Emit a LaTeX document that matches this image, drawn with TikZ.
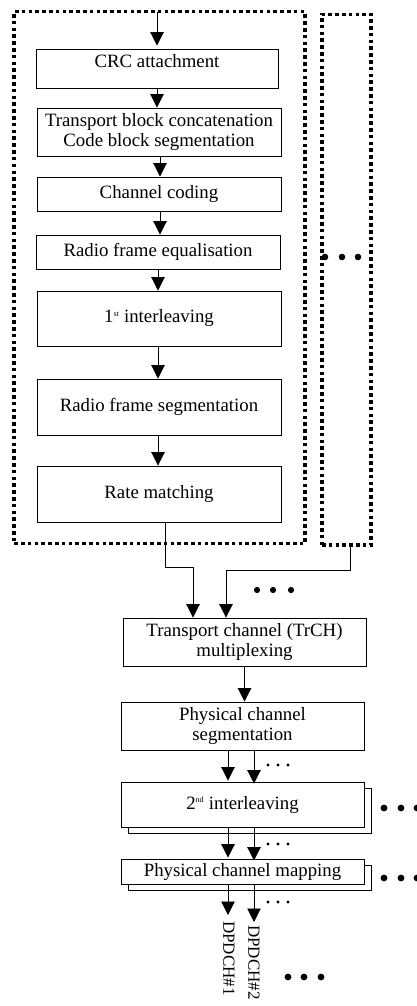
\documentclass[tikz,border=0pt]{standalone}
\usepackage{fontspec}
\setmainfont{Liberation Serif}
\usetikzlibrary{arrows.meta,shadows}
\newcommand\fsz{\fontsize{18.8}{20.5}\selectfont}
\newcommand\supsm[1]{\textsuperscript{\fontsize{8}{8}\selectfont #1}}
\begin{document}
\begin{tikzpicture}[x=1pt,y=-1pt,
  box/.style={draw=black, line width=0.9pt, fill=white, inner sep=0pt, align=center, font=\fsz},
  txt/.style={inner sep=0pt, align=center, font=\fsz},
  dotbox/.style={draw=black, line width=3.6pt, dash pattern=on 3.6pt off 3.2pt, inner sep=0pt},
  arr/.style={draw=black, line width=0.9pt, -{Triangle[length=13.5pt 0 0,width=13.5pt 0 0]}},
  shad/.style={copy shadow={shadow xshift=7pt, shadow yshift=-6pt}},
  bigdot/.style={fill=black},
  smalldot/.style={fill=black}]
\useasboundingbox (0,0) rectangle (417,1006);

% dotted enclosures
\node[dotbox, minimum width=290.5pt, minimum height=531.8pt] (lbox) at (159.5,277.6) {};
\node[dotbox, minimum width=49pt, minimum height=530.7pt] (rbox) at (346.5,279.7) {};
\coordinate (in) at (157,12);

% TrCH processing chain
\node[box, minimum width=242pt, minimum height=39pt] (crc) at (157,68.5) {};
\node[txt] (crct) at (157,61.5) {CRC attachment};
\node[box, minimum width=244pt, minimum height=48pt] (tb) at (159,132) {Transport block concatenation\\Code block segmentation};
\node[box, minimum width=244pt, minimum height=34pt] (cc) at (159,194) {Channel coding};
\node[box, minimum width=244pt, minimum height=34pt] (rfe) at (158,252) {Radio frame equalisation};
\node[box, minimum width=244pt, minimum height=55pt] (int1) at (159,318.5) {1\supsm{st} interleaving};
\node[box, minimum width=244pt, minimum height=56pt] (rfs) at (159,407) {Radio frame segmentation};
\node[box, minimum width=244pt, minimum height=56pt] (rm) at (159,494) {Rate matching};

\draw[arr] (in) -- ([yshift=3pt]crc.north);
\draw[arr] (crc.south) -- (crc.south |- tb.north);
\draw[arr] ([xshift=1pt]tb.south) -- ([xshift=1pt]tb.south |- cc.north);
\draw[arr] ([xshift=1pt]cc.south) -- ([xshift=1pt]cc.south |- rfe.north);
\draw[arr] (rfe.south) -- (rfe.south |- int1.north);
\draw[arr] ([xshift=-1pt]int1.south) -- ([xshift=-1pt]rfs.north);
\draw[arr] ([xshift=-1pt]rfs.south) -- ([xshift=-1pt]rm.north);

\foreach \x in {325,342,358} \fill[bigdot] (\x,257) circle (3.3pt);

% multiplexing and physical channels
\node[box, minimum width=243pt, minimum height=48pt] (trch) at (244.5,642) {Transport channel (TrCH)\\multiplexing};
\node[box, minimum width=243pt, minimum height=48pt] (pcs) at (242.5,726) {Physical channel\\segmentation};
\node[box, shad, minimum width=243pt, minimum height=45pt] (int2) at (242.5,804.5) {2\supsm{nd} interleaving};
\node[box, shad, minimum width=243pt, minimum height=25pt] (pcm) at (242.5,871.5) {Physical channel mapping};

\draw[arr] ([xshift=6pt]rm.south) -- ++(0,45) -| ([xshift=-51.5pt]trch.north);
\draw[arr] ([xshift=3.5pt]rbox.south) -- ++(0,24) -| ([xshift=-18.5pt]trch.north);
\foreach \x in {257,273,291} \fill[bigdot] (\x,590) circle (3.1pt);

\draw[arr] (trch.south) -- (trch.south |- pcs.north);

\draw[arr] ([xshift=-14.5pt]pcs.south) -- ([xshift=-14.5pt,yshift=1pt]int2.north);
\draw[arr] ([xshift=11.5pt]pcs.south) -- ([xshift=11.5pt,yshift=-2pt]int2.north);
\foreach \x in {268,278,288} \fill[smalldot] (\x,765) circle (1.7pt);
\foreach \x in {384,401,417} \fill[bigdot] (\x,808) circle (3.4pt);

\draw[arr] ([xshift=-14.5pt]int2.south) -- ([xshift=-14.5pt,yshift=1pt]pcm.north);
\draw[arr] ([xshift=11.5pt]int2.south) -- ([xshift=11.5pt,yshift=-2pt]pcm.north);
\foreach \x in {268,278,288} \fill[smalldot] (\x,844) circle (1.7pt);
\foreach \x in {384,401,417} \fill[bigdot] (\x,878) circle (3.4pt);

\coordinate (o1) at (228,915);
\coordinate (o2) at (254,922);
\draw[arr] ([xshift=-14.5pt]pcm.south) -- (o1);
\draw[arr] ([xshift=11.5pt]pcm.south) -- (o2);
\foreach \x in {268,278,288} \fill[smalldot] (\x,902) circle (1.7pt);

\node[txt, font=\fontsize{17}{18}\selectfont, rotate=-90, anchor=west] (dp1) at (229,921) {DPDCH\#1};
\node[txt, font=\fontsize{17}{18}\selectfont, rotate=-90, anchor=west] (dp2) at (254,925) {DPDCH\#2};
\foreach \x in {288,304,321} \fill[bigdot] (\x,977) circle (3.4pt);
\end{tikzpicture}
\end{document}
